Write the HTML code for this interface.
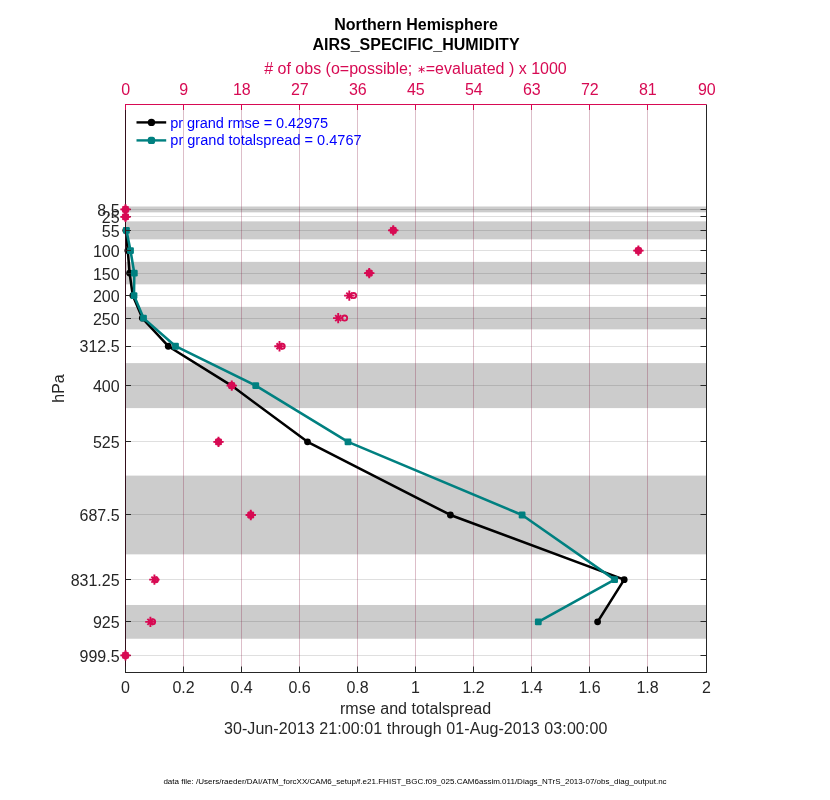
<!DOCTYPE html>
<html><head><meta charset="utf-8"><title>AIRS_SPECIFIC_HUMIDITY</title>
<style>html,body{margin:0;padding:0;background:#fff}svg{display:block}text{font-family:"Liberation Sans",sans-serif}</style></head><body>
<svg width="830" height="800" viewBox="0 0 830 800">
<rect width="830" height="800" fill="#fff"/>
<g fill="rgb(204,204,204)">
<rect x="126.0" y="206.50" width="580.5" height="5.85"/>
<rect x="126.0" y="221.35" width="580.5" height="18.00"/>
<rect x="126.0" y="261.85" width="580.5" height="22.50"/>
<rect x="126.0" y="306.85" width="580.5" height="22.50"/>
<rect x="126.0" y="363.10" width="580.5" height="45.00"/>
<rect x="126.0" y="475.60" width="580.5" height="78.75"/>
<rect x="126.0" y="604.98" width="580.5" height="33.75"/>
</g>
<g stroke="rgb(38,38,38)" stroke-opacity="0.15" stroke-width="1">
<line x1="125.5" x2="706.5" y1="209.5" y2="209.5"/>
<line x1="125.5" x2="706.5" y1="216.5" y2="216.5"/>
<line x1="125.5" x2="706.5" y1="230.5" y2="230.5"/>
<line x1="125.5" x2="706.5" y1="250.5" y2="250.5"/>
<line x1="125.5" x2="706.5" y1="273.5" y2="273.5"/>
<line x1="125.5" x2="706.5" y1="295.5" y2="295.5"/>
<line x1="125.5" x2="706.5" y1="318.5" y2="318.5"/>
<line x1="125.5" x2="706.5" y1="346.5" y2="346.5"/>
<line x1="125.5" x2="706.5" y1="385.5" y2="385.5"/>
<line x1="125.5" x2="706.5" y1="441.5" y2="441.5"/>
<line x1="125.5" x2="706.5" y1="514.5" y2="514.5"/>
<line x1="125.5" x2="706.5" y1="579.5" y2="579.5"/>
<line x1="125.5" x2="706.5" y1="621.5" y2="621.5"/>
<line x1="125.5" x2="706.5" y1="655.5" y2="655.5"/>
</g>
<g font-size="14.55" fill="rgb(0,0,255)">
<text x="170.3" y="127.6" textLength="157.8">pr grand rmse = 0.42975</text>
<text x="170.3" y="144.7">pr grand totalspread = 0.4767</text>
</g>
<g stroke-width="1">
<line x1="183.5" x2="183.5" y1="104.5" y2="672.5" stroke="rgb(38,38,38)" stroke-opacity="0.15"/>
<line x1="183.5" x2="183.5" y1="104.5" y2="672.5" stroke="rgb(215,10,83)" stroke-opacity="0.15"/>
<line x1="241.5" x2="241.5" y1="104.5" y2="672.5" stroke="rgb(38,38,38)" stroke-opacity="0.15"/>
<line x1="241.5" x2="241.5" y1="104.5" y2="672.5" stroke="rgb(215,10,83)" stroke-opacity="0.15"/>
<line x1="299.5" x2="299.5" y1="104.5" y2="672.5" stroke="rgb(38,38,38)" stroke-opacity="0.15"/>
<line x1="299.5" x2="299.5" y1="104.5" y2="672.5" stroke="rgb(215,10,83)" stroke-opacity="0.15"/>
<line x1="357.5" x2="357.5" y1="104.5" y2="672.5" stroke="rgb(38,38,38)" stroke-opacity="0.15"/>
<line x1="357.5" x2="357.5" y1="104.5" y2="672.5" stroke="rgb(215,10,83)" stroke-opacity="0.15"/>
<line x1="415.5" x2="415.5" y1="104.5" y2="672.5" stroke="rgb(38,38,38)" stroke-opacity="0.15"/>
<line x1="415.5" x2="415.5" y1="104.5" y2="672.5" stroke="rgb(215,10,83)" stroke-opacity="0.15"/>
<line x1="473.5" x2="473.5" y1="104.5" y2="672.5" stroke="rgb(38,38,38)" stroke-opacity="0.15"/>
<line x1="473.5" x2="473.5" y1="104.5" y2="672.5" stroke="rgb(215,10,83)" stroke-opacity="0.15"/>
<line x1="531.5" x2="531.5" y1="104.5" y2="672.5" stroke="rgb(38,38,38)" stroke-opacity="0.15"/>
<line x1="531.5" x2="531.5" y1="104.5" y2="672.5" stroke="rgb(215,10,83)" stroke-opacity="0.15"/>
<line x1="589.5" x2="589.5" y1="104.5" y2="672.5" stroke="rgb(38,38,38)" stroke-opacity="0.15"/>
<line x1="589.5" x2="589.5" y1="104.5" y2="672.5" stroke="rgb(215,10,83)" stroke-opacity="0.15"/>
<line x1="647.5" x2="647.5" y1="104.5" y2="672.5" stroke="rgb(38,38,38)" stroke-opacity="0.15"/>
<line x1="647.5" x2="647.5" y1="104.5" y2="672.5" stroke="rgb(215,10,83)" stroke-opacity="0.15"/>
</g>
<polyline points="125.80,230.35 127.80,250.60 129.60,273.10 132.80,295.60 142.30,318.10 168.25,346.23 231.50,385.60 307.50,441.85 450.40,514.98 624.20,579.66 597.60,621.85" fill="none" stroke="#000" stroke-width="2.55" stroke-linejoin="round"/>
<circle cx="125.80" cy="230.35" r="3.4" fill="#000"/>
<circle cx="127.80" cy="250.60" r="3.4" fill="#000"/>
<circle cx="129.60" cy="273.10" r="3.4" fill="#000"/>
<circle cx="132.80" cy="295.60" r="3.4" fill="#000"/>
<circle cx="142.30" cy="318.10" r="3.4" fill="#000"/>
<circle cx="168.25" cy="346.23" r="3.4" fill="#000"/>
<circle cx="231.50" cy="385.60" r="3.4" fill="#000"/>
<circle cx="307.50" cy="441.85" r="3.4" fill="#000"/>
<circle cx="450.40" cy="514.98" r="3.4" fill="#000"/>
<circle cx="624.20" cy="579.66" r="3.4" fill="#000"/>
<circle cx="597.60" cy="621.85" r="3.4" fill="#000"/>
<polyline points="126.40,230.35 130.50,250.60 134.30,273.10 134.00,295.60 143.50,318.10 175.50,346.23 255.75,385.60 348.00,441.85 522.10,514.98 614.60,579.66 538.30,621.85" fill="none" stroke="rgb(0,128,128)" stroke-width="2.55" stroke-linejoin="round"/>
<rect x="123.00" y="226.95" width="6.8" height="6.8" rx="1.2" fill="rgb(0,128,128)"/>
<rect x="127.10" y="247.20" width="6.8" height="6.8" rx="1.2" fill="rgb(0,128,128)"/>
<rect x="130.90" y="269.70" width="6.8" height="6.8" rx="1.2" fill="rgb(0,128,128)"/>
<rect x="130.60" y="292.20" width="6.8" height="6.8" rx="1.2" fill="rgb(0,128,128)"/>
<rect x="140.10" y="314.70" width="6.8" height="6.8" rx="1.2" fill="rgb(0,128,128)"/>
<rect x="172.10" y="342.83" width="6.8" height="6.8" rx="1.2" fill="rgb(0,128,128)"/>
<rect x="252.35" y="382.20" width="6.8" height="6.8" rx="1.2" fill="rgb(0,128,128)"/>
<rect x="344.60" y="438.45" width="6.8" height="6.8" rx="1.2" fill="rgb(0,128,128)"/>
<rect x="518.70" y="511.58" width="6.8" height="6.8" rx="1.2" fill="rgb(0,128,128)"/>
<rect x="611.20" y="576.26" width="6.8" height="6.8" rx="1.2" fill="rgb(0,128,128)"/>
<rect x="534.90" y="618.45" width="6.8" height="6.8" rx="1.2" fill="rgb(0,128,128)"/>
<line x1="136.5" x2="166.2" y1="122.4" y2="122.4" stroke="#000" stroke-width="2.4"/><circle cx="151.45" cy="122.4" r="3.7" fill="#000"/>
<line x1="136.5" x2="166.2" y1="140.4" y2="140.4" stroke="rgb(0,128,128)" stroke-width="2.4"/><rect x="147.8" y="136.75" width="7.3" height="7.3" rx="2.6" fill="rgb(0,128,128)"/>
<g stroke="rgb(38,38,38)" stroke-width="1" fill="none">
<line x1="125.0" x2="707.0" y1="672.5" y2="672.5"/>
<line x1="706.5" x2="706.5" y1="104.5" y2="672.5"/>
<line x1="125.5" x2="125.5" y1="104.5" y2="672.5" stroke="rgb(52,14,28)"/>
<line x1="125.5" x2="125.5" y1="672.5" y2="666.5"/>
<line x1="183.5" x2="183.5" y1="672.5" y2="666.5"/>
<line x1="241.5" x2="241.5" y1="672.5" y2="666.5"/>
<line x1="299.5" x2="299.5" y1="672.5" y2="666.5"/>
<line x1="357.5" x2="357.5" y1="672.5" y2="666.5"/>
<line x1="415.5" x2="415.5" y1="672.5" y2="666.5"/>
<line x1="473.5" x2="473.5" y1="672.5" y2="666.5"/>
<line x1="531.5" x2="531.5" y1="672.5" y2="666.5"/>
<line x1="589.5" x2="589.5" y1="672.5" y2="666.5"/>
<line x1="647.5" x2="647.5" y1="672.5" y2="666.5"/>
<line x1="706.5" x2="706.5" y1="672.5" y2="666.5"/>
<line x1="125.5" x2="131.0" y1="209.5" y2="209.5"/>
<line x1="706.5" x2="700.5" y1="209.5" y2="209.5"/>
<line x1="125.5" x2="131.0" y1="216.5" y2="216.5"/>
<line x1="706.5" x2="700.5" y1="216.5" y2="216.5"/>
<line x1="125.5" x2="131.0" y1="230.5" y2="230.5"/>
<line x1="706.5" x2="700.5" y1="230.5" y2="230.5"/>
<line x1="125.5" x2="131.0" y1="250.5" y2="250.5"/>
<line x1="706.5" x2="700.5" y1="250.5" y2="250.5"/>
<line x1="125.5" x2="131.0" y1="273.5" y2="273.5"/>
<line x1="706.5" x2="700.5" y1="273.5" y2="273.5"/>
<line x1="125.5" x2="131.0" y1="295.5" y2="295.5"/>
<line x1="706.5" x2="700.5" y1="295.5" y2="295.5"/>
<line x1="125.5" x2="131.0" y1="318.5" y2="318.5"/>
<line x1="706.5" x2="700.5" y1="318.5" y2="318.5"/>
<line x1="125.5" x2="131.0" y1="346.5" y2="346.5"/>
<line x1="706.5" x2="700.5" y1="346.5" y2="346.5"/>
<line x1="125.5" x2="131.0" y1="385.5" y2="385.5"/>
<line x1="706.5" x2="700.5" y1="385.5" y2="385.5"/>
<line x1="125.5" x2="131.0" y1="441.5" y2="441.5"/>
<line x1="706.5" x2="700.5" y1="441.5" y2="441.5"/>
<line x1="125.5" x2="131.0" y1="514.5" y2="514.5"/>
<line x1="706.5" x2="700.5" y1="514.5" y2="514.5"/>
<line x1="125.5" x2="131.0" y1="579.5" y2="579.5"/>
<line x1="706.5" x2="700.5" y1="579.5" y2="579.5"/>
<line x1="125.5" x2="131.0" y1="621.5" y2="621.5"/>
<line x1="706.5" x2="700.5" y1="621.5" y2="621.5"/>
<line x1="125.5" x2="131.0" y1="655.5" y2="655.5"/>
<line x1="706.5" x2="700.5" y1="655.5" y2="655.5"/>
</g>
<g stroke="rgb(215,10,83)" stroke-width="1" fill="none">
<line x1="125.0" x2="706.5" y1="104.5" y2="104.5"/>
<line x1="125.5" x2="125.5" y1="104.5" y2="110.0"/>
<line x1="183.5" x2="183.5" y1="104.5" y2="110.0"/>
<line x1="241.5" x2="241.5" y1="104.5" y2="110.0"/>
<line x1="299.5" x2="299.5" y1="104.5" y2="110.0"/>
<line x1="357.5" x2="357.5" y1="104.5" y2="110.0"/>
<line x1="415.5" x2="415.5" y1="104.5" y2="110.0"/>
<line x1="473.5" x2="473.5" y1="104.5" y2="110.0"/>
<line x1="531.5" x2="531.5" y1="104.5" y2="110.0"/>
<line x1="589.5" x2="589.5" y1="104.5" y2="110.0"/>
<line x1="647.5" x2="647.5" y1="104.5" y2="110.0"/>
</g>
<g stroke="rgb(215,10,83)" stroke-width="1.9" fill="none" stroke-linecap="butt">
<path d="M120.30,209.42H130.70M125.50,204.22V214.62M122.50,206.42L128.50,212.42M122.50,212.42L128.50,206.42"/>
<circle cx="125.50" cy="209.42" r="2.6" stroke-width="1.8"/>
<path d="M120.80,209.42L125.50,204.72L130.20,209.42L125.50,214.12Z" fill="rgb(215,10,83)" stroke="none"/>
<path d="M120.30,216.85H130.70M125.50,211.65V222.05M122.50,213.85L128.50,219.85M122.50,219.85L128.50,213.85"/>
<circle cx="125.50" cy="216.85" r="2.6" stroke-width="1.8"/>
<path d="M120.80,216.85L125.50,212.15L130.20,216.85L125.50,221.55Z" fill="rgb(215,10,83)" stroke="none"/>
<path d="M388.05,230.35H398.45M393.25,225.15V235.55M390.25,227.35L396.25,233.35M390.25,233.35L396.25,227.35"/>
<circle cx="393.25" cy="230.35" r="2.6" stroke-width="1.8"/>
<path d="M388.55,230.35L393.25,225.65L397.95,230.35L393.25,235.05Z" fill="rgb(215,10,83)" stroke="none"/>
<path d="M633.20,250.60H643.60M638.40,245.40V255.80M635.40,247.60L641.40,253.60M635.40,253.60L641.40,247.60"/>
<circle cx="638.40" cy="250.60" r="2.6" stroke-width="1.8"/>
<path d="M633.70,250.60L638.40,245.90L643.10,250.60L638.40,255.30Z" fill="rgb(215,10,83)" stroke="none"/>
<path d="M364.05,273.10H374.45M369.25,267.90V278.30M366.25,270.10L372.25,276.10M366.25,276.10L372.25,270.10"/>
<circle cx="369.25" cy="273.10" r="2.6" stroke-width="1.8"/>
<path d="M364.55,273.10L369.25,268.40L373.95,273.10L369.25,277.80Z" fill="rgb(215,10,83)" stroke="none"/>
<path d="M344.10,295.60H354.50M349.30,290.40V300.80M346.30,292.60L352.30,298.60M346.30,298.60L352.30,292.60"/>
<circle cx="353.60" cy="295.60" r="2.6" stroke-width="1.8"/>
<path d="M333.00,318.10H343.40M338.20,312.90V323.30M335.20,315.10L341.20,321.10M335.20,321.10L341.20,315.10"/>
<circle cx="344.60" cy="318.10" r="2.6" stroke-width="1.8"/>
<path d="M274.30,346.23H284.70M279.50,341.03V351.43M276.50,343.23L282.50,349.23M276.50,349.23L282.50,343.23"/>
<circle cx="282.20" cy="346.23" r="2.6" stroke-width="1.8"/>
<path d="M226.55,385.60H236.95M231.75,380.40V390.80M228.75,382.60L234.75,388.60M228.75,388.60L234.75,382.60"/>
<circle cx="231.75" cy="385.60" r="2.6" stroke-width="1.8"/>
<path d="M227.05,385.60L231.75,380.90L236.45,385.60L231.75,390.30Z" fill="rgb(215,10,83)" stroke="none"/>
<path d="M213.30,441.85H223.70M218.50,436.65V447.05M215.50,438.85L221.50,444.85M215.50,444.85L221.50,438.85"/>
<circle cx="218.50" cy="441.85" r="2.6" stroke-width="1.8"/>
<path d="M213.80,441.85L218.50,437.15L223.20,441.85L218.50,446.55Z" fill="rgb(215,10,83)" stroke="none"/>
<path d="M245.55,514.98H255.95M250.75,509.78V520.18M247.75,511.98L253.75,517.98M247.75,517.98L253.75,511.98"/>
<circle cx="250.75" cy="514.98" r="2.6" stroke-width="1.8"/>
<path d="M246.05,514.98L250.75,510.28L255.45,514.98L250.75,519.68Z" fill="rgb(215,10,83)" stroke="none"/>
<path d="M149.20,579.66H159.60M154.40,574.46V584.86M151.40,576.66L157.40,582.66M151.40,582.66L157.40,576.66"/>
<circle cx="155.50" cy="579.66" r="2.6" stroke-width="1.8"/>
<path d="M145.20,621.85H155.60M150.40,616.65V627.05M147.40,618.85L153.40,624.85M147.40,624.85L153.40,618.85"/>
<circle cx="152.60" cy="621.85" r="2.6" stroke-width="1.8"/>
<path d="M120.30,655.38H130.70M125.50,650.17V660.58M122.50,652.38L128.50,658.38M122.50,658.38L128.50,652.38"/>
<circle cx="125.50" cy="655.38" r="2.6" stroke-width="1.8"/>
<path d="M120.80,655.38L125.50,650.67L130.20,655.38L125.50,660.08Z" fill="rgb(215,10,83)" stroke="none"/>
</g>
<g font-size="16" fill="rgb(38,38,38)" text-anchor="end">
<text x="119.6" y="215.80">8.5</text>
<text x="119.6" y="222.80">25</text>
<text x="119.6" y="236.80">55</text>
<text x="119.6" y="256.80">100</text>
<text x="119.6" y="279.80">150</text>
<text x="119.6" y="301.80">200</text>
<text x="119.6" y="324.80">250</text>
<text x="119.6" y="352.30">312.5</text>
<text x="119.6" y="391.80">400</text>
<text x="119.6" y="447.80">525</text>
<text x="119.6" y="520.80">687.5</text>
<text x="119.6" y="585.80">831.25</text>
<text x="119.6" y="627.80">925</text>
<text x="119.6" y="661.80">999.5</text>
</g>
<g font-size="16" fill="rgb(38,38,38)" text-anchor="middle">
<text x="125.50" y="693.2">0</text>
<text x="183.50" y="693.2">0.2</text>
<text x="241.50" y="693.2">0.4</text>
<text x="299.50" y="693.2">0.6</text>
<text x="357.50" y="693.2">0.8</text>
<text x="415.50" y="693.2">1</text>
<text x="473.50" y="693.2">1.2</text>
<text x="531.50" y="693.2">1.4</text>
<text x="589.50" y="693.2">1.6</text>
<text x="647.50" y="693.2">1.8</text>
<text x="706.50" y="693.2">2</text>
<text x="415.6" y="713.8" textLength="151.2">rmse and totalspread</text>
<text x="415.6" y="733.7" textLength="383.4">30-Jun-2013 21:00:01 through 01-Aug-2013 03:00:00</text>
<text transform="translate(64.3,388.5) rotate(-90)">hPa</text>
</g>
<g font-size="16" fill="rgb(215,10,83)" text-anchor="middle">
<text x="125.80" y="94.9">0</text>
<text x="183.80" y="94.9">9</text>
<text x="241.80" y="94.9">18</text>
<text x="299.80" y="94.9">27</text>
<text x="357.80" y="94.9">36</text>
<text x="415.80" y="94.9">45</text>
<text x="473.80" y="94.9">54</text>
<text x="531.80" y="94.9">63</text>
<text x="589.80" y="94.9">72</text>
<text x="647.80" y="94.9">81</text>
<text x="706.80" y="94.9">90</text>
<text x="415.5" y="73.8"># of obs (o=possible; <tspan font-size="11" dy="-0.5">∗</tspan><tspan dy="0.5">=evaluated ) x 1000</tspan></text>
</g>
<g font-size="16" font-weight="bold" fill="#000" text-anchor="middle">
<text x="416" y="29.5">Northern Hemisphere</text>
<text x="416" y="49.5">AIRS_SPECIFIC_HUMIDITY</text>
</g>
<text x="163.4" y="783.8" font-size="8" fill="#000" textLength="503.2">data file: /Users/raeder/DAI/ATM_forcXX/CAM6_setup/f.e21.FHIST_BGC.f09_025.CAM6assim.011/Diags_NTrS_2013-07/obs_diag_output.nc</text>
</svg></body></html>
